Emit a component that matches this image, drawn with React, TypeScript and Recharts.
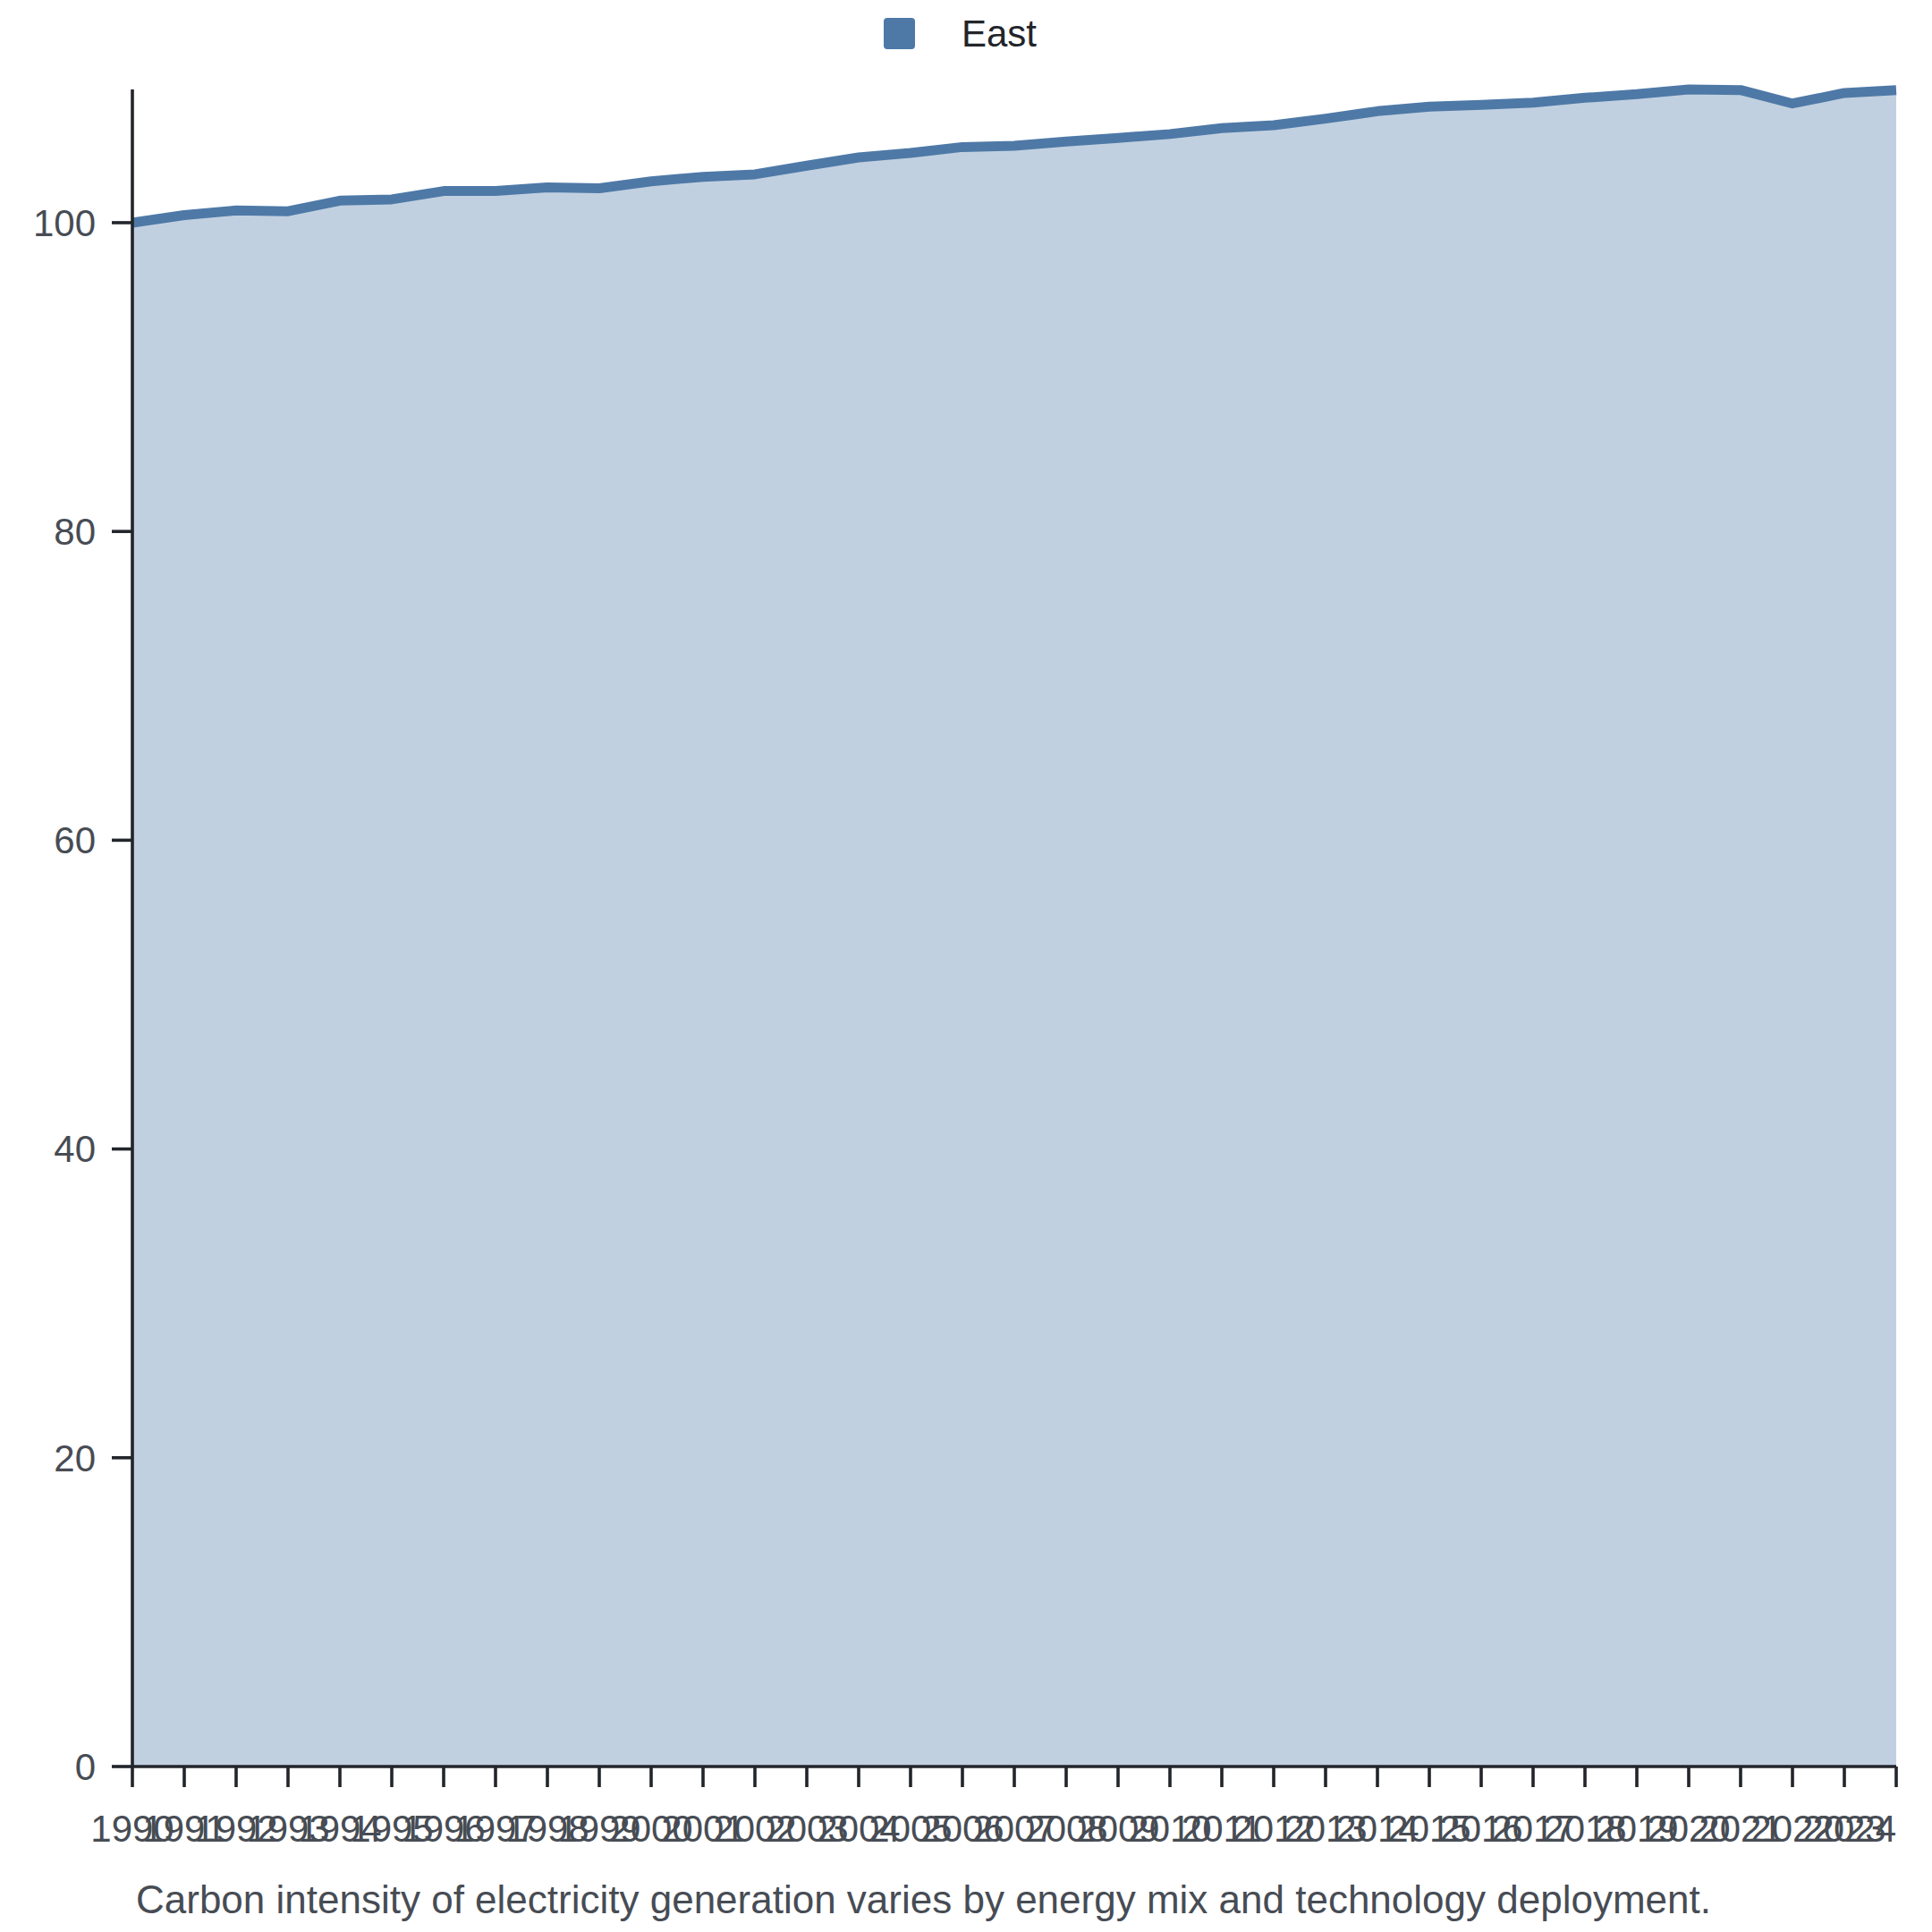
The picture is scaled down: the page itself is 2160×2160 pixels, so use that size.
import { AreaChart, Area, XAxis, YAxis } from "recharts";

// ── Data ──────────────────────────────────────────────────────────────────────

const SERIES_NAME = "East";

const YEARS: string[] = [
  "1990", "1991", "1992", "1993", "1994", "1995", "1996", "1997", "1998", "1999",
  "2000", "2001", "2002", "2003", "2004", "2005", "2006", "2007", "2008", "2009",
  "2010", "2011", "2012", "2013", "2014", "2015", "2016", "2017", "2018", "2019",
  "2020", "2021", "2022", "2023", "2024",
];

const EAST: number[] = [
  100.0, 100.49, 100.79, 100.74, 101.43, 101.51, 102.05, 102.05, 102.28, 102.23,
  102.68, 102.97, 103.13, 103.69, 104.23, 104.52, 104.9, 104.98, 105.25, 105.49,
  105.74, 106.12, 106.31, 106.74, 107.22, 107.51, 107.63, 107.78, 108.09, 108.32,
  108.63, 108.59, 107.72, 108.4, 108.59,
];

const Y_TICKS = [0, 20, 40, 60, 80, 100];

const CAPTION =
  "Carbon intensity of electricity generation varies by energy mix and technology deployment.";

// ── Styles ────────────────────────────────────────────────────────────────────

const FONT = "'Liberation Sans', Arial, Helvetica, sans-serif";
const BLUE = "#4e79a7";
const AXIS = "#22252a";
const TEXT = "#474c54";

const chartData = YEARS.map((year, i) => ({ year, east: EAST[i] }));

// Last label is pulled inside the plot so it doesn't spill past the edge
function YearTick(props: any) {
  const { x, y, payload, index } = props;
  const last = index === YEARS.length - 1;
  return (
    <text
      x={x}
      y={y}
      dy="0.71em"
      textAnchor={last ? "end" : "middle"}
      fill={TEXT}
      fontSize={42}
      fontFamily={FONT}
    >
      {payload.value}
    </text>
  );
}

export default function App() {
  return (
    <div
      style={{
        position: "absolute",
        left: 0,
        top: 0,
        width: 2160,
        height: 2160,
        background: "#fff",
        fontFamily: FONT,
      }}
    >
      {/* Legend */}
      <div
        style={{
          position: "absolute",
          left: 988,
          top: 20,
          display: "flex",
          alignItems: "center",
          height: 35,
        }}
      >
        <span
          style={{ display: "inline-block", width: 35, height: 35, background: BLUE, borderRadius: 4 }}
        />
        <span style={{ marginLeft: 52, fontSize: 42, lineHeight: 1, color: "#22252a" }}>
          {SERIES_NAME}
        </span>
      </div>

      {/* plot area: x 148..2120, y 100..1975 */}
      <AreaChart
        width={2160}
        height={2160}
        data={chartData}
        margin={{ top: 100, right: 40, bottom: 125, left: 0 }}
        style={{ position: "absolute", left: 0, top: 0 }}
      >
        <XAxis
          dataKey="year"
          interval={0}
          tick={<YearTick />}
          tickSize={23}
          tickMargin={31}
          axisLine={{ stroke: AXIS, strokeWidth: 3.6 }}
          tickLine={{ stroke: AXIS, strokeWidth: 3.6 }}
          height={60}
        />
        <YAxis
          width={148}
          domain={[0, "dataMax"]}
          ticks={Y_TICKS}
          tickSize={23}
          tickMargin={18}
          axisLine={{ stroke: AXIS, strokeWidth: 3.6 }}
          tickLine={{ stroke: AXIS, strokeWidth: 3.6 }}
          tick={{ fill: TEXT, fontSize: 42, fontFamily: FONT }}
        />
        <Area
          type="linear"
          dataKey="east"
          name={SERIES_NAME}
          stroke={BLUE}
          strokeWidth={11}
          strokeLinejoin="round"
          fill={BLUE}
          fillOpacity={0.35}
          dot={false}
          activeDot={false}
          isAnimationActive={false}
        />
      </AreaChart>

      {/* Caption */}
      <div
        style={{
          position: "absolute",
          left: 152,
          top: 2102,
          fontSize: 44,
          lineHeight: 1,
          color: TEXT,
          whiteSpace: "nowrap",
        }}
      >
        {CAPTION}
      </div>
    </div>
  );
}
